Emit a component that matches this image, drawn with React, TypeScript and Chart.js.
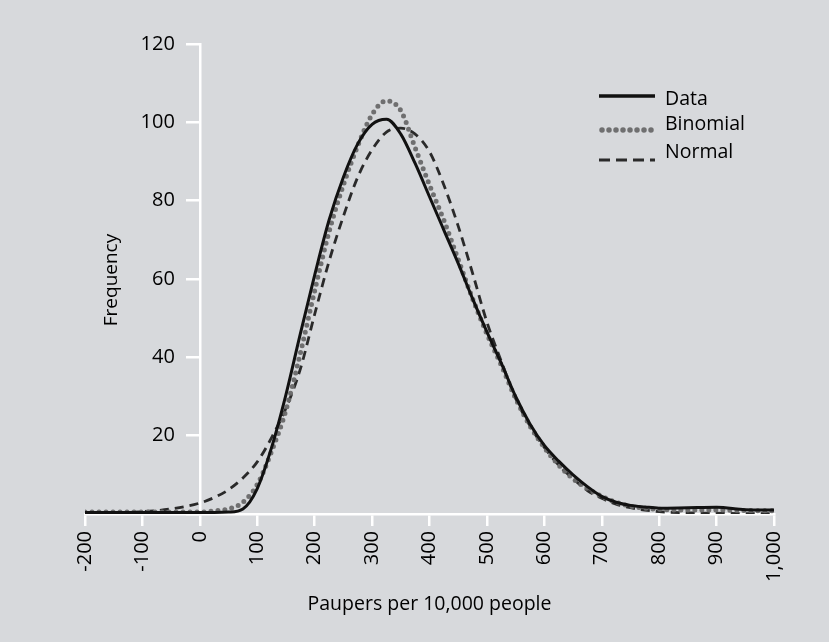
import { useEffect, useRef } from 'react';
import { Chart, registerables } from 'chart.js';

Chart.register(...registerables);

// Paupers per 10,000 people (x grid shared by all series)
const xGrid = [-200, -150, -100, -50, 0, 25, 50, 75, 100, 125, 150, 175, 200, 225, 250, 275, 300, 325, 350, 375, 400, 425, 450, 475, 500, 525, 550, 575, 600, 625, 650, 675, 700, 725, 750, 775, 800, 850, 900, 950, 1000];

const dataFreq = [0.4, 0.4, 0.4, 0.4, 0.4, 0.4, 0.5, 1.3, 6.5, 17, 30.5, 46, 61, 75, 86, 94.5, 99.5, 100.8, 97, 89.5, 81, 72.5, 64, 55, 46.5, 38.5, 30, 23, 17.5, 13.5, 10, 7, 4.5, 3, 2.2, 1.8, 1.5, 1.6, 1.7, 1.1, 1];

const binomialFreq = [0.5, 0.5, 0.5, 0.5, 0.5, 0.8, 1.3, 3, 7.5, 16, 26.5, 41, 57, 72, 84, 94, 102, 105.5, 103, 93.5, 84, 75, 65, 55, 46, 38, 29.5, 22.5, 17, 12.5, 9, 6.5, 4.5, 3, 2, 1.5, 1.2, 1, 1, 0.9, 0.8];

const normalFreq = [0.1, 0.3, 0.6, 1.3, 2.8, 4.2, 6.2, 9.2, 13.3, 19.5, 27, 37, 51, 64.5, 76, 86, 93, 97.5, 98.5, 97, 92.5, 84, 73.5, 61.5, 49, 39, 29.5, 22.5, 17, 12.5, 9, 6, 4, 2.5, 1.6, 1, 0.6, 0.3, 0.2, 0.1, 0.1];

const xTicks = [-200, -100, 0, 100, 200, 300, 400, 500, 600, 700, 800, 900, 1000];
const yTicks = [0, 20, 40, 60, 80, 100, 120];

const seriesNames = ['Data', 'Binomial', 'Normal'];
const xTitle = 'Paupers per 10,000 people';
const yTitle = 'Frequency';

const FONT = '"Open Sans", "Noto Sans", sans-serif';
const TEXT = '#000000';
const BG = '#d7d9dc';

const toPoints = (ys: number[]) => xGrid.map((x, i) => ({ x, y: ys[i] }));

const overlayPlugin = {
  id: 'overlay',
  afterDraw(chart: any) {
    const ctx = chart.ctx as CanvasRenderingContext2D;
    const xs = chart.scales.x;
    const ys = chart.scales.y;

    // y tick labels, placed left of the y axis (which sits at x = 0)
    ctx.save();
    ctx.font = `20px ${FONT}`;
    ctx.fillStyle = TEXT;
    ctx.textAlign = 'right';
    ctx.textBaseline = 'middle';
    const axisX = xs.getPixelForValue(0);
    yTicks.forEach((v) => {
      if (v === 0) return;
      ctx.fillText(String(v), axisX - 25, ys.getPixelForValue(v));
    });
    ctx.restore();

    // y-axis title
    ctx.save();
    ctx.font = `19px ${FONT}`;
    ctx.fillStyle = TEXT;
    ctx.textAlign = 'center';
    ctx.textBaseline = 'middle';
    ctx.translate(112, 280);
    ctx.rotate(-Math.PI / 2);
    ctx.fillText(yTitle, 0, 0);
    ctx.restore();

    // legend
    ctx.save();
    const x0 = 599;
    const x1 = 655;
    const tx = 665;
    const rows = [
      { sampleY: 96, textY: 105 },
      { sampleY: 130, textY: 130 },
      { sampleY: 160, textY: 158 },
    ];
    ctx.strokeStyle = '#111';
    ctx.lineWidth = 3.5;
    ctx.setLineDash([]);
    ctx.beginPath();
    ctx.moveTo(x0, rows[0].sampleY);
    ctx.lineTo(x1, rows[0].sampleY);
    ctx.stroke();

    ctx.strokeStyle = 'rgba(105,105,105,0.95)';
    ctx.lineWidth = 5.5;
    ctx.lineCap = 'round';
    ctx.setLineDash([0, 7]);
    ctx.beginPath();
    ctx.moveTo(x0 + 3, rows[1].sampleY);
    ctx.lineTo(x1, rows[1].sampleY);
    ctx.stroke();

    ctx.strokeStyle = '#2a2a2a';
    ctx.lineWidth = 3;
    ctx.lineCap = 'butt';
    ctx.setLineDash([11, 6]);
    ctx.beginPath();
    ctx.moveTo(x0, rows[2].sampleY);
    ctx.lineTo(x1, rows[2].sampleY);
    ctx.stroke();
    ctx.setLineDash([]);

    ctx.font = `19.5px ${FONT}`;
    ctx.fillStyle = TEXT;
    ctx.textAlign = 'left';
    ctx.textBaseline = 'alphabetic';
    seriesNames.forEach((name, i) => ctx.fillText(name, tx, rows[i].textY));
    ctx.restore();
  },
};

export default function App() {
  const canvasRef = useRef<HTMLCanvasElement | null>(null);

  useEffect(() => {
    document.body.style.margin = '0';
    document.body.style.background = BG;
    const canvas = canvasRef.current;
    if (!canvas) return;
    const chart = new Chart(canvas, {
      type: 'line',
      data: {
        datasets: [
          {
            label: seriesNames[0],
            data: toPoints(dataFreq),
            borderColor: '#111111',
            borderWidth: 3,
            pointRadius: 0,
            cubicInterpolationMode: 'monotone',
            order: 1,
          },
          {
            label: seriesNames[1],
            data: toPoints(binomialFreq),
            borderColor: 'rgba(105,105,105,0.95)',
            borderWidth: 5,
            borderDash: [0, 7],
            borderCapStyle: 'round',
            pointRadius: 0,
            cubicInterpolationMode: 'monotone',
            order: 2,
          },
          {
            label: seriesNames[2],
            data: toPoints(normalFreq),
            borderColor: '#2a2a2a',
            borderWidth: 2.8,
            borderDash: [9, 6],
            pointRadius: 0,
            cubicInterpolationMode: 'monotone',
            order: 3,
          },
        ],
      },
      options: {
        animation: false,
        responsive: true,
        maintainAspectRatio: false,
        layout: { padding: { left: 85, right: 55, top: 44, bottom: 0 } },
        plugins: {
          legend: { display: false },
          tooltip: { enabled: false },
        },
        scales: {
          x: {
            type: 'linear',
            min: xTicks[0],
            max: xTicks[xTicks.length - 1],
            afterBuildTicks: (scale: any) => {
              scale.ticks = xTicks.map((v) => ({ value: v }));
            },
            afterFit: (scale: any) => {
              scale.height = 128;
            },
            border: { color: '#ffffff', width: 2.5 },
            grid: { drawOnChartArea: false, color: '#ffffff', tickLength: 12, lineWidth: 2.5 },
            ticks: {
              autoSkip: false,
              minRotation: 90,
              maxRotation: 90,
              padding: 5,
              color: TEXT,
              font: { family: FONT, size: 20 },
            },
            title: {
              display: true,
              text: xTitle,
              color: TEXT,
              font: { family: FONT, size: 19.5 },
              padding: { top: 4, bottom: 26 },
            },
          },
          y: {
            type: 'linear',
            position: { x: 0 } as any,
            min: yTicks[0],
            max: yTicks[yTicks.length - 1],
            afterBuildTicks: (scale: any) => {
              scale.ticks = yTicks.map((v) => ({ value: v }));
            },
            afterFit: (scale: any) => {
              scale.width = 0;
            },
            border: { color: '#ffffff', width: 2.5 },
            grid: { drawOnChartArea: false, color: '#ffffff', tickLength: 13, lineWidth: 2.5 },
            ticks: { display: false },
            title: { display: false },
          },
        },
      },
      plugins: [overlayPlugin],
    });
    return () => chart.destroy();
  }, []);

  return (
    <div style={{ position: 'fixed', left: 0, top: 0, width: 829, height: 642, background: BG }}>
      <canvas ref={canvasRef} />
    </div>
  );
}
